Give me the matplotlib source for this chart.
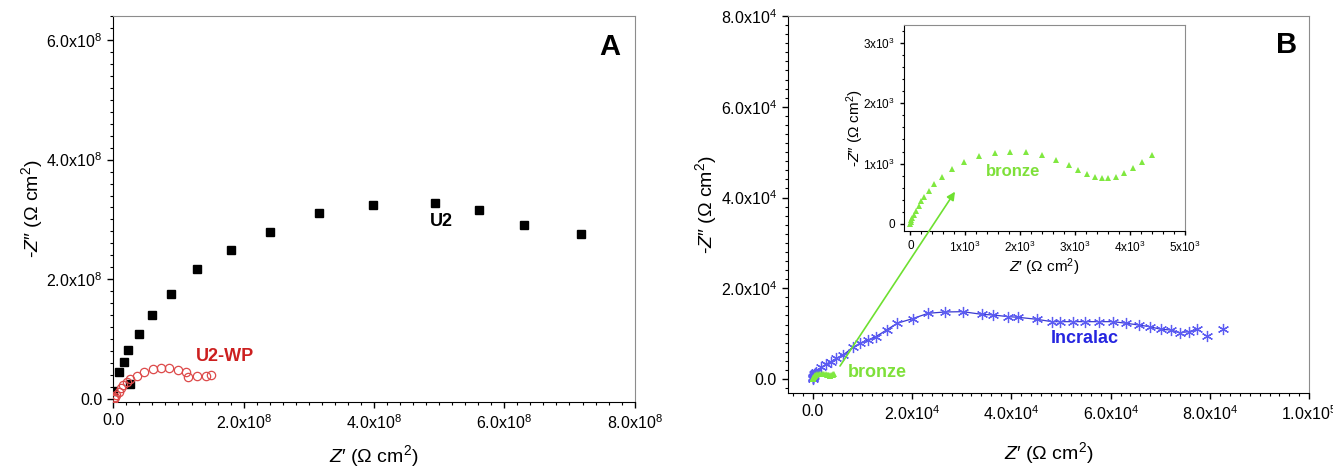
import math
import matplotlib.pyplot as plt
from matplotlib.ticker import MultipleLocator, FuncFormatter

plt.rcParams['font.family'] = ['Liberation Sans', 'DejaVu Sans']
plt.rcParams['mathtext.fontset'] = 'custom'
plt.rcParams['mathtext.rm'] = 'Liberation Sans'
plt.rcParams['mathtext.it'] = 'Liberation Sans:italic'

# Panel A data (Ohm cm2)
u2_x = [0.0, 0.086e8, 0.163e8, 0.218e8, 0.256e8, 0.388e8, 0.59e8, 0.886e8, 1.28e8,
        1.807e8, 2.403e8, 3.153e8, 3.986e8, 4.94e8, 5.618e8, 6.298e8, 7.175e8]
u2_y = [0.139e8, 0.446e8, 0.618e8, 0.814e8, 0.246e8, 1.091e8, 1.399e8, 1.75e8, 2.168e8,
        2.49e8, 2.786e8, 3.104e8, 3.242e8, 3.281e8, 3.164e8, 2.908e8, 2.753e8]
u2wp_x = [0.005e8, 0.015e8, 0.03e8, 0.048e8, 0.081e8, 0.113e8, 0.152e8, 0.207e8, 0.258e8,
          0.367e8, 0.476e8, 0.602e8, 0.739e8, 0.848e8, 0.99e8, 1.117e8, 1.15e8,
          1.281e8, 1.423e8, 1.494e8]
u2wp_y = [0.0, 0.01e8, 0.035e8, 0.067e8, 0.122e8, 0.178e8, 0.234e8, 0.29e8, 0.334e8,
          0.384e8, 0.446e8, 0.496e8, 0.513e8, 0.523e8, 0.48e8, 0.446e8, 0.373e8,
          0.39e8, 0.379e8, 0.406e8]

# Panel B data (Ohm cm2)
bronze_x = [0, 10, 20, 35, 60, 109, 151, 200, 255, 333, 436, 576, 758, 970, 1255, 1533,
            1812, 2103, 2394, 2649, 2879, 3060, 3212, 3364, 3485, 3606, 3745, 3897,
            4061, 4212, 4406]
bronze_y = [0, 30, 60, 100, 154, 209, 292, 375, 441, 541, 663, 779, 917, 1033, 1128, 1182,
            1199, 1187, 1138, 1061, 972, 896, 829, 784, 763, 763, 784, 851,
            929, 1022, 1149]
incralac_x = [0, 50, 100, 180, 280, 400, 550, 790, 1790, 2800, 3810, 4820, 6150, 8170,
              9520, 11190, 12740, 14900, 17040, 20140, 23290, 26650, 30220, 34050,
              36390, 39420, 41430, 45140, 48170, 49840, 52400, 54880, 57760, 60460,
              63150, 65630, 67850, 70140, 72160, 73900, 75710, 77400, 79420, 82640]
incralac_y = [0, 150, 300, 500, 750, 1000, 1300, 1610, 2580, 3310, 3820, 4560, 5290, 6990,
              7870, 8600, 9330, 10800, 12280, 13300, 14490, 14770, 14840, 14260,
              14110, 13740, 13600, 13160, 12640, 12640, 12640, 12640, 12640, 12640,
              12280, 11910, 11530, 10960, 10800, 10210, 10430, 10960, 9480, 11090]

xlab = "$Z$\u2032 (Ω cm$^2$)"
ylab = "-$Z$\u2033 (Ω cm$^2$)"


def sci(dec=1):
    def f(v, pos):
        if abs(v) < 1e-12:
            return '0.0' if dec else '0'
        exp = int(math.floor(math.log10(abs(v)) + 1e-9))
        m = v / 10 ** exp
        if dec:
            return '%.1fx10$^{%d}$' % (m, exp)
        return '%dx10$^{%d}$' % (round(m), exp)
    return FuncFormatter(f)


def style(ax, size=11.5, major=4.5, minor=2.5):
    for s in ['top', 'right']:
        ax.spines[s].set_color('#8c8c8c')
    for s in ['left', 'bottom']:
        ax.spines[s].set_color('black')
    ax.tick_params(which='both', direction='out', top=False, right=False, labelsize=size)
    ax.tick_params(which='major', length=major, width=1)
    ax.tick_params(which='minor', length=minor, width=0.8)


fig = plt.figure(figsize=(13.33, 4.69), dpi=100)

# ---- Panel A
ax1 = fig.add_axes([0.0850, 0.1435, 0.3911, 0.8224])
ax1.plot(u2_x, u2_y, 's', color='black', ms=5.5, zorder=3)
ax1.plot(u2wp_x, u2wp_y, 'o', mfc='none', mec='#dd4a4a', mew=0.9, ms=6, zorder=4)
ax1.set_xlim(0, 8e8)
ax1.set_ylim(-0.045e8, 6.4e8)
ax1.xaxis.set_major_locator(MultipleLocator(2e8))
ax1.xaxis.set_minor_locator(MultipleLocator(0.2e8))
ax1.yaxis.set_major_locator(MultipleLocator(2e8))
ax1.yaxis.set_minor_locator(MultipleLocator(0.2e8))
ax1.xaxis.set_major_formatter(sci())
ax1.yaxis.set_major_formatter(sci())
style(ax1)
ax1.set_xlabel(xlab, fontsize=14, labelpad=8)
ax1.set_ylabel(ylab, fontsize=14, labelpad=1)
ax1.text(5.04e8, 2.96e8, 'U2', fontsize=13, fontweight='bold', ha='center', va='center')
ax1.text(1.71e8, 0.71e8, 'U2-WP', fontsize=13, fontweight='bold', color='#cc1f1f',
         ha='center', va='center')
ax1.text(0.953, 0.92, 'A', transform=ax1.transAxes, fontsize=21, fontweight='bold',
         ha='center', va='center')

# ---- Panel B
ax2 = fig.add_axes([0.5909, 0.1614, 0.3913, 0.8045])
ax2.plot(incralac_x[:-2], incralac_y[:-2], '-', color='#3a3ad0', lw=0.9, zorder=2)
ax2.plot(incralac_x, incralac_y, ls='none', marker=(6, 2, 0), color='#5c5cf2',
         ms=8, mew=0.9, zorder=3)
ax2.plot(bronze_x, bronze_y, '^', color='#80e840', ms=4.5, mew=0, zorder=4)
ax2.set_xlim(-5000, 100000)
ax2.set_ylim(-3150, 80000)
ax2.xaxis.set_major_locator(MultipleLocator(20000))
ax2.xaxis.set_minor_locator(MultipleLocator(2000))
ax2.yaxis.set_major_locator(MultipleLocator(20000))
ax2.yaxis.set_minor_locator(MultipleLocator(2000))
ax2.xaxis.set_major_formatter(sci())
ax2.yaxis.set_major_formatter(sci())
style(ax2)
ax2.set_xlabel(xlab, fontsize=14, labelpad=12)
ax2.set_ylabel(ylab, fontsize=14, labelpad=1)
ax2.text(13040, 1390, 'bronze', fontsize=13, fontweight='bold', color='#7ee03a',
         ha='center', va='center')
ax2.text(54850, 8970, 'Incralac', fontsize=13, fontweight='bold', color='#2626e0',
         ha='center', va='center')
ax2.text(0.957, 0.923, 'B', transform=ax2.transAxes, fontsize=21, fontweight='bold',
         ha='center', va='center')

# ---- Inset
ax3 = fig.add_axes([0.6784, 0.5081, 0.2106, 0.4392])
ax3.plot(bronze_x, bronze_y, '^', color='#80e840', ms=4.5, mew=0)
ax3.set_xlim(-110, 5000)
ax3.set_ylim(-111, 3300)
ax3.xaxis.set_major_locator(MultipleLocator(1000))
ax3.xaxis.set_minor_locator(MultipleLocator(200))
ax3.yaxis.set_major_locator(MultipleLocator(1000))
ax3.yaxis.set_minor_locator(MultipleLocator(200))
ax3.xaxis.set_major_formatter(sci(0))
ax3.yaxis.set_major_formatter(sci(0))
style(ax3, size=8.5, major=3, minor=1.8)
ax3.set_xlabel(xlab, fontsize=11, labelpad=1)
ax3.set_ylabel(ylab, fontsize=11)
ax3.yaxis.set_label_coords(-0.137, 0.5)
ax3.text(1873, 877, 'bronze', fontsize=12, fontweight='bold', color='#7ee03a',
         ha='center', va='center')

# arrow from the bronze blob in the main plot into the inset, drawn on top
ax3.annotate('', xy=(813, 535), xycoords='data', xytext=(5535, 2865),
             textcoords=ax2.transData, annotation_clip=False,
             arrowprops=dict(arrowstyle='-|>', color='#6ee030', lw=1.2,
                             mutation_scale=12, shrinkA=0, shrinkB=0))

fig.savefig('out.png', dpi=100)
